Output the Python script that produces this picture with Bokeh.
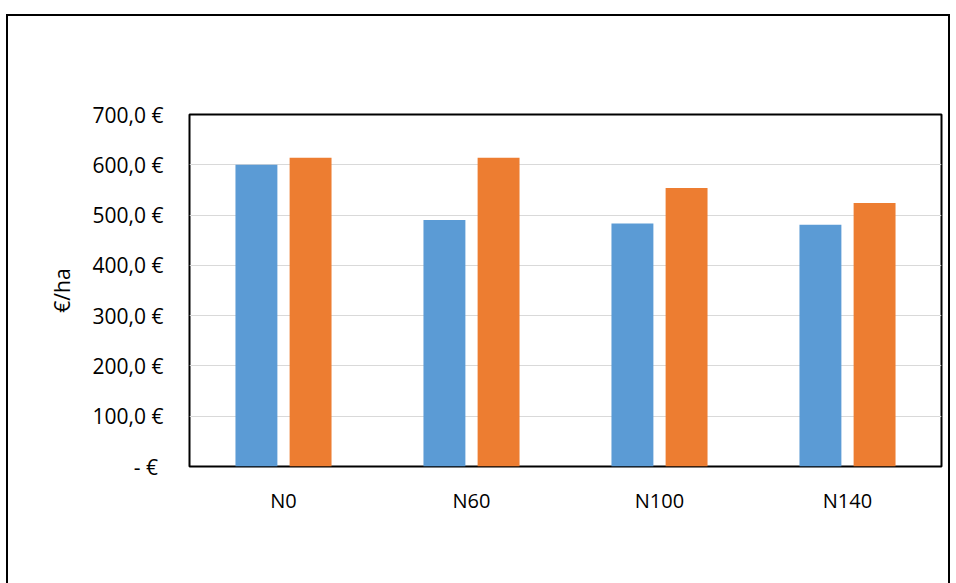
from bokeh.plotting import figure
from bokeh.models import (ColumnDataSource, Range1d, FixedTicker, CategoricalAxis, FactorRange,
                          InlineStyleSheet)
from bokeh.transform import dodge
from bokeh.embed import file_html
from bokeh.resources import INLINE

categories = ["N0", "N60", "N100", "N140"]
surface = [600, 490, 483, 481]
enfoui = [614, 614, 554, 524]
y_ticks = [0, 100, 200, 300, 400, 500, 600, 700]
y_tick_labels = ["-  €", "100,0 €", "200,0 €", "300,0 €", "400,0 €", "500,0 €", "600,0 €", "700,0 €"]
title_text = "Approche économique"
y_title = "€/ha"
series_names = ["Surface", "Enfoui"]
colors = ["#5B9BD5", "#ED7D31"]

FONT = "Open Sans"

src = ColumnDataSource(dict(cat=categories, surface=surface, enfoui=enfoui))

# outer chart-area border (top, left, right; bottom edge lies outside the window)
border_css = InlineStyleSheet(css="""
:host::after {
  content: "";
  position: absolute;
  left: 6px; top: 14px; width: 944px; height: 569px;
  box-sizing: border-box;
  border: 2px solid black; border-bottom: none;
  pointer-events: none; z-index: 100;
}
""")

p = figure(x_range=categories, y_range=Range1d(0, 700), width=956, height=583,
           output_backend="svg", toolbar_location=None,
           min_border_left=189, min_border_right=15, min_border_top=114,
           min_border_bottom=116, stylesheets=[border_css])
p.background_fill_color = "white"
p.border_fill_color = "white"
p.outline_line_color = "black"
p.outline_line_width = 2

r1 = p.vbar(x=dodge("cat", -0.144, range=p.x_range), top="surface", width=0.223,
            source=src, fill_color=colors[0], line_color=None)
r2 = p.vbar(x=dodge("cat", 0.144, range=p.x_range), top="enfoui", width=0.223,
            source=src, fill_color=colors[1], line_color=None)

# main axes
p.yaxis.ticker = FixedTicker(ticks=y_ticks)
p.yaxis.major_label_overrides = {t: l for t, l in zip(y_ticks, y_tick_labels)}
p.yaxis.axis_line_color = None
p.yaxis.major_tick_line_color = None
p.yaxis.minor_tick_line_color = None
p.yaxis.major_label_standoff = 20
p.yaxis.major_label_text_font = FONT
p.yaxis.major_label_text_font_size = "21px"
p.yaxis.major_label_text_color = "black"
p.yaxis.axis_label = y_title
p.yaxis.axis_label_text_font = FONT
p.yaxis.axis_label_text_font_size = "21px"
p.yaxis.axis_label_text_font_style = "normal"
p.yaxis.axis_label_text_color = "black"
p.yaxis.axis_label_standoff = 14

p.xaxis.axis_line_color = None
p.xaxis.major_tick_line_color = None
p.xaxis.minor_tick_line_color = None
p.xaxis.major_label_standoff = 14
p.xaxis.major_label_text_font = FONT
p.xaxis.major_label_text_font_size = "20px"
p.xaxis.major_label_text_color = "black"

p.xgrid.grid_line_color = None
p.ygrid.grid_line_color = "#d9d9d9"
p.ygrid.grid_line_width = 1

# helper categorical range of invisible slots across the frame, used to place title and legend
slots = ["\u200b" * (i + 1) for i in range(94)]
p.extra_x_ranges = {"slots": FactorRange(factors=slots)}


def slot_axis(mapping, size, color, standoff, font=FONT):
    return CategoricalAxis(x_range_name="slots",
                           major_label_overrides={slots[i]: t for i, t in mapping.items()},
                           axis_line_color=None, major_tick_line_color=None,
                           minor_tick_line_color=None, major_tick_in=0, major_tick_out=0,
                           major_label_standoff=standoff, major_label_text_font=font,
                           major_label_text_font_size=size, major_label_text_color=color)


# chart title
p.add_layout(slot_axis({37: title_text}, "32px", "black", 33), "above")

# legend: coloured keys and their labels
p.add_layout(slot_axis({27: "■"}, "17px", colors[0], 36, "DejaVu Sans"), "below")
p.add_layout(slot_axis({40: "■"}, "17px", colors[1], -20, "DejaVu Sans"), "below")
p.add_layout(slot_axis({33: series_names[0], 46: series_names[1]}, "20px", "black", -25), "below")

open("out.html", "w").write(file_html(p, INLINE))
